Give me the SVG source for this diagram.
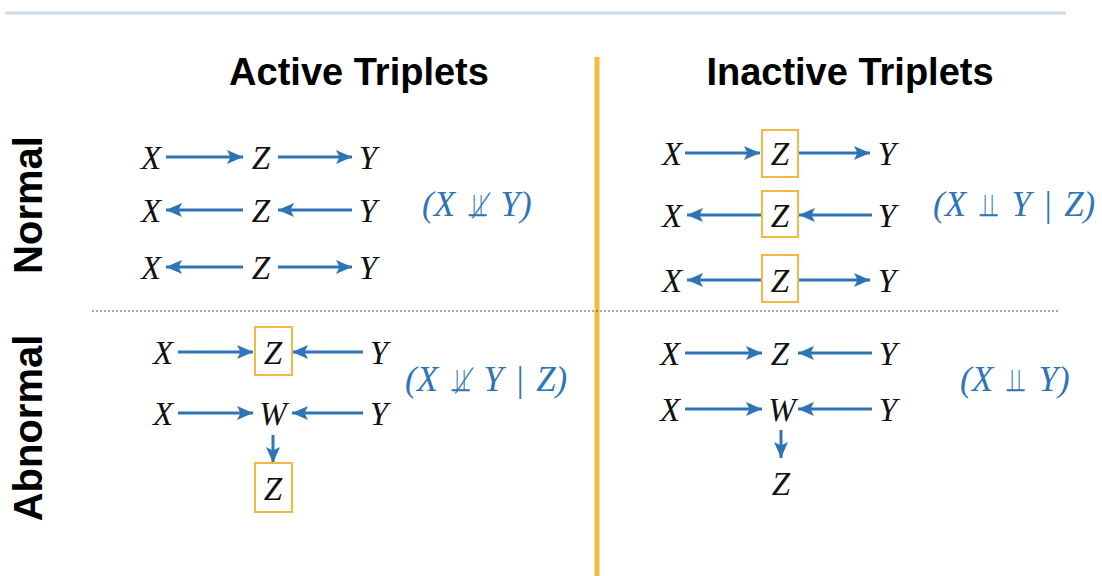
<svg xmlns="http://www.w3.org/2000/svg" width="1102" height="576" viewBox="0 0 1102 576">
<defs>
<marker id="ah" markerUnits="userSpaceOnUse" markerWidth="18" markerHeight="16" refX="16" refY="7" orient="auto">
<path d="M0,0 L16,7 L0,14 L3.5,7 z" fill="#2e75b6"/>
</marker>
</defs>
<style>
.v{font-family:"Liberation Serif",serif;font-style:italic;font-size:33px;fill:#111;text-anchor:middle}
.t{font-family:"Liberation Sans",Arial,sans-serif;font-weight:bold;font-size:38px;fill:#000;text-anchor:middle}
.e{font-family:"Liberation Serif",serif;font-style:italic;font-size:35px;fill:#2e75b6}
.s{font-family:"DejaVu Sans",sans-serif;font-style:normal;font-size:32px}
.a{stroke:#2e75b6;stroke-width:3;fill:none;marker-end:url(#ah)}
.b{fill:none;stroke:#f4b942;stroke-width:2}
</style>
<rect width="1102" height="576" fill="#fff"/>
<line x1="5" y1="13" x2="1066" y2="13" stroke="#cfdce8" stroke-width="3"/>
<line x1="597" y1="57" x2="597" y2="576" stroke="#f2bc3e" stroke-width="5"/>
<line x1="92" y1="311" x2="1058" y2="311" stroke="#555" stroke-width="1" stroke-dasharray="2,2"/>
<g id="titles">
<text class="t" x="359" y="85">Active Triplets</text>
<text class="t" x="850" y="85">Inactive Triplets</text>
<text class="t" style="font-size:40px" transform="translate(42,205) rotate(-90)">Normal</text>
<text class="t" style="font-size:40px" transform="translate(42,428) rotate(-90)">Abnormal</text>
</g>
<g id="connectors">
<line class="a" x1="166" y1="157" x2="243" y2="157"/>
<line class="a" x1="278" y1="157" x2="352" y2="157"/>
<line class="a" x1="243" y1="210" x2="166" y2="210"/>
<line class="a" x1="352" y1="210" x2="278" y2="210"/>
<line class="a" x1="243" y1="267" x2="166" y2="267"/>
<line class="a" x1="278" y1="267" x2="352" y2="267"/>
<line class="a" x1="685" y1="153" x2="760" y2="153"/>
<line class="a" x1="799" y1="153" x2="870" y2="153"/>
<line class="a" x1="762" y1="215" x2="687" y2="215"/>
<line class="a" x1="872" y1="215" x2="799" y2="215"/>
<line class="a" x1="762" y1="280" x2="687" y2="280"/>
<line class="a" x1="799" y1="280" x2="870" y2="280"/>
<line class="a" x1="178" y1="352" x2="253" y2="352"/>
<line class="a" x1="363" y1="352" x2="292" y2="352"/>
<line class="a" x1="178" y1="413" x2="253" y2="413"/>
<line class="a" x1="363" y1="413" x2="292" y2="413"/>
<line class="a" x1="273" y1="435" x2="273" y2="463"/>
<line class="a" x1="685" y1="353" x2="762" y2="353"/>
<line class="a" x1="872" y1="353" x2="798" y2="353"/>
<line class="a" x1="685" y1="409" x2="762" y2="409"/>
<line class="a" x1="872" y1="409" x2="798" y2="409"/>
<line class="a" x1="781" y1="430" x2="781" y2="458"/>
</g>
<g id="normal-active">
<text class="v" x="151" y="169">X</text><text class="v" x="261" y="169">Z</text><text class="v" x="368" y="169">Y</text>
<text class="v" x="151" y="222">X</text><text class="v" x="261" y="222">Z</text><text class="v" x="368" y="222">Y</text>
<text class="v" x="151" y="279">X</text><text class="v" x="261" y="279">Z</text><text class="v" x="368" y="279">Y</text>
<text class="e" x="422" y="216">(X <tspan class="s" dx="5">⫫̸</tspan><tspan dx="5"> Y)</tspan></text>
</g>
<g id="normal-inactive">
<rect class="b" x="762" y="130" width="36" height="47"/>
<rect class="b" x="762" y="191" width="36" height="46"/>
<rect class="b" x="762" y="255" width="36" height="47"/>
<text class="v" x="672" y="165">X</text><text class="v" x="780" y="165">Z</text><text class="v" x="887" y="165">Y</text>
<text class="v" x="672" y="227">X</text><text class="v" x="780" y="227">Z</text><text class="v" x="887" y="227">Y</text>
<text class="v" x="672" y="292">X</text><text class="v" x="780" y="292">Z</text><text class="v" x="887" y="292">Y</text>
<text class="e" x="933" y="216">(X <tspan class="s" dx="5">⫫</tspan><tspan dx="5"> Y </tspan><tspan dx="3">| </tspan><tspan dx="3">Z)</tspan></text>
</g>
<g id="abnormal-active">
<rect class="b" x="255" y="327" width="37" height="48"/>
<rect class="b" x="255" y="463" width="37" height="49"/>
<text class="v" x="163" y="364">X</text><text class="v" x="273" y="364">Z</text><text class="v" x="379" y="364">Y</text>
<text class="v" x="163" y="425">X</text><text class="v" x="273" y="425">W</text><text class="v" x="379" y="425">Y</text>
<text class="v" x="273" y="500">Z</text>
<text class="e" x="405" y="391">(X <tspan class="s" dx="5">⫫̸</tspan><tspan dx="5"> Y </tspan><tspan dx="3">| </tspan><tspan dx="3">Z)</tspan></text>
</g>
<g id="abnormal-inactive">
<text class="v" x="670" y="365">X</text><text class="v" x="780" y="365">Z</text><text class="v" x="888" y="365">Y</text>
<text class="v" x="670" y="421">X</text><text class="v" x="782" y="421">W</text><text class="v" x="888" y="421">Y</text>
<text class="v" x="781" y="495">Z</text>
<text class="e" x="960" y="391">(X <tspan class="s" dx="5">⫫</tspan><tspan dx="5"> Y)</tspan></text>
</g>
</svg>
